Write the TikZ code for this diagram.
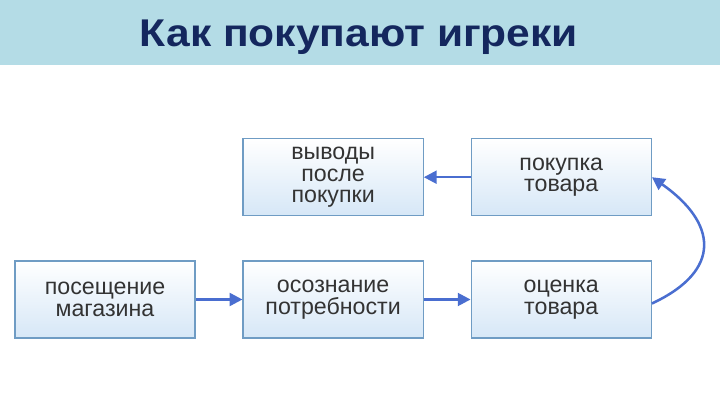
\documentclass[tikz,border=0pt]{standalone}
\usepackage{fontspec}
\setmainfont{Liberation Sans}
\newfontfamily\titlefont[FakeStretch=1.1]{Liberation Sans}
\usetikzlibrary{arrows.meta, positioning}
\definecolor{bandblue}{HTML}{B4DCE6}
\definecolor{titlenavy}{HTML}{14275E}
\definecolor{boxedge}{HTML}{6F9CC4}
\definecolor{boxfill}{HTML}{D6E7F7}
\definecolor{arrowblue}{HTML}{4A6ED0}
\definecolor{textgray}{HTML}{333333}

\begin{document}
\begin{tikzpicture}[
  x=0.025cm, y=0.025cm, >={Triangle[length=3.2mm,width=3.2mm]},
  node distance=1.1cm and 1.17cm,
  stage/.style={rectangle, draw=boxedge, line width=0.9pt, top color=white, bottom color=boxfill,
                text=textgray, align=center, inner sep=2pt,
                minimum width=4.5cm, minimum height=1.925cm, font=\fontsize{16.5}{15.5}\selectfont},
  flow/.style={->, draw=arrowblue, line width=1.8pt}]
  \useasboundingbox (0,0) rectangle (720,405);
  \fill[bandblue] (0,340) rectangle (720,405);
  \node[anchor=base, text=titlenavy, font=\titlefont\bfseries\fontsize{27.5}{30}\selectfont]
    (title) at (359,358) {Как покупают игреки};
  \node[stage] (visit) at (105,105.5) {посещение\\магазина};
  \node[stage, right=of visit] (aware) {осознание\\потребности};
  \node[stage, right=of aware] (eval) {оценка\\товара};
  \node[stage, above=of eval] (buy) {покупка\\товара};
  \node[stage, above=of aware] (concl) {выводы\\после\\покупки};
  \draw[flow] (visit) -- (aware);
  \draw[flow] (aware) -- (eval);
  \draw[flow] (buy) -- (concl);
  \draw[flow] ([yshift=-1mm]eval.east) to[out=25, in=-35, looseness=1.6] (buy.east);
\end{tikzpicture}
\end{document}
